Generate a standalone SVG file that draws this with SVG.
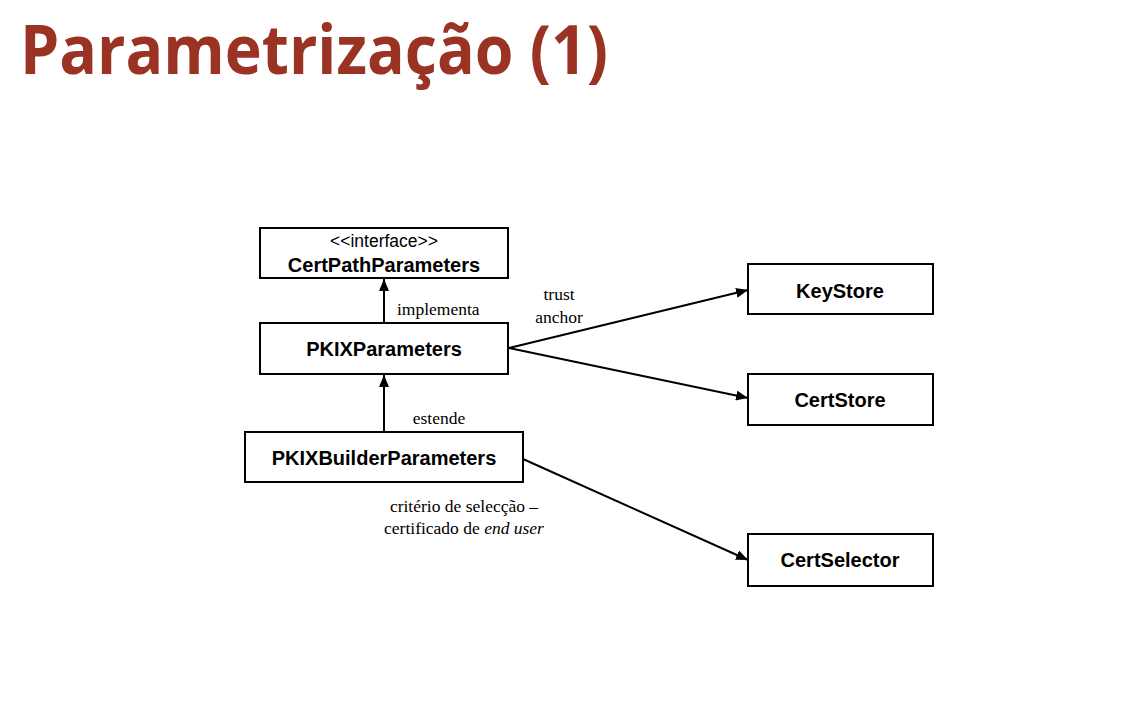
<svg xmlns="http://www.w3.org/2000/svg" width="1131" height="718" viewBox="0 0 1131 718">
<defs>
<style>
.box{fill:#fff;stroke:#000;stroke-width:2}
.nt{font-family:"Liberation Sans",Arial,sans-serif;font-size:20px;font-weight:bold;text-anchor:middle;fill:#000}
.st{font-family:"Liberation Sans",Arial,sans-serif;font-size:17.5px;text-anchor:middle;fill:#000}
.lb{font-family:"Liberation Serif","Times New Roman",serif;font-size:17.5px;fill:#000}
.ln{stroke:#000;stroke-width:2;fill:none}
</style>
<marker id="ah" viewBox="0 0 12 10" refX="12" refY="5" markerWidth="12" markerHeight="10" markerUnits="userSpaceOnUse" orient="auto">
<path d="M0,0 L12,5 L0,10 Z" fill="#000"/>
</marker>
</defs>
<rect width="1131" height="718" fill="#fff"/>
<text x="20" y="74" font-family="'Open Sans','Noto Sans',sans-serif" font-weight="bold" font-size="68" fill="#9a3324" textLength="588" lengthAdjust="spacingAndGlyphs">Parametrização (1)</text>

<g id="connectors">
<line class="ln" x1="384" y1="323" x2="384" y2="279" marker-end="url(#ah)"/>
<line class="ln" x1="384" y1="432" x2="384" y2="375" marker-end="url(#ah)"/>
<line class="ln" x1="509" y1="348" x2="748" y2="290" marker-end="url(#ah)"/>
<line class="ln" x1="509" y1="348" x2="748" y2="398" marker-end="url(#ah)"/>
<line class="ln" x1="523" y1="459" x2="748" y2="560" marker-end="url(#ah)"/>
<text class="lb" x="397" y="315">implementa</text>
<text class="lb" x="559" y="300" text-anchor="middle">trust</text>
<text class="lb" x="559" y="323" text-anchor="middle">anchor</text>
<text class="lb" x="439" y="424" text-anchor="middle">estende</text>
<text class="lb" x="464" y="512" text-anchor="middle">critério de selecção –</text>
<text class="lb" x="464" y="534" text-anchor="middle">certificado de <tspan font-style="italic">end user</tspan></text>
</g>

<g id="certpathparameters">
<rect class="box" x="260" y="228" width="248" height="50"/>
<text class="st" x="384" y="247">&lt;&lt;interface&gt;&gt;</text>
<text class="nt" x="384" y="272">CertPathParameters</text>
</g>
<g id="pkixparameters">
<rect class="box" x="260" y="323" width="248" height="51"/>
<text class="nt" x="384" y="356">PKIXParameters</text>
</g>
<g id="pkixbuilderparameters">
<rect class="box" x="245" y="432" width="278" height="50"/>
<text class="nt" x="384" y="465">PKIXBuilderParameters</text>
</g>
<g id="keystore">
<rect class="box" x="748" y="264" width="185" height="50"/>
<text class="nt" x="840" y="298">KeyStore</text>
</g>
<g id="certstore">
<rect class="box" x="748" y="374" width="185" height="51"/>
<text class="nt" x="840" y="407">CertStore</text>
</g>
<g id="certselector">
<rect class="box" x="748" y="534" width="185" height="52"/>
<text class="nt" x="840" y="567">CertSelector</text>
</g>
</svg>
